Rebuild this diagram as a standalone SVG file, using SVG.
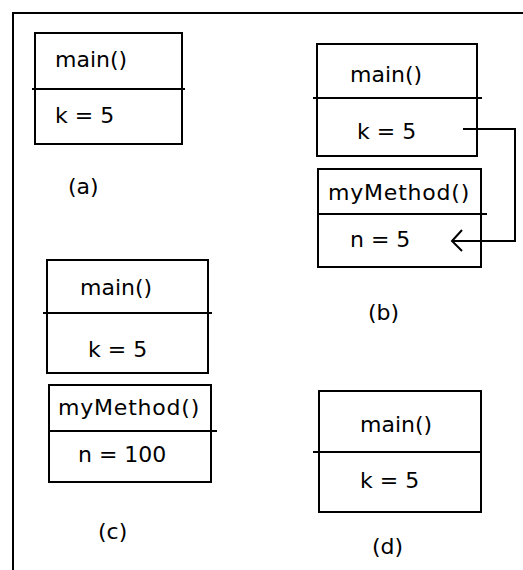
<svg xmlns="http://www.w3.org/2000/svg" width="523" height="570" viewBox="0 0 523 570">
<defs>
<style>
.box{fill:none;stroke:#000;stroke-width:2}
.div{stroke:#000;stroke-width:2}
.t{font-family:"DejaVu Sans",Verdana,sans-serif;font-size:22px;fill:#000}
.wide{letter-spacing:0.8px}
.conn{fill:none;stroke:#000;stroke-width:2}
</style>
<marker id="chev" markerUnits="userSpaceOnUse" viewBox="-12 -12 24 24" markerWidth="24" markerHeight="24" refX="0" refY="0" orient="auto" overflow="visible">
<path d="M-10,-10 L0,0 L-10,11" fill="none" stroke="#000" stroke-width="2"/>
</marker>
</defs>
<rect width="523" height="570" fill="#fff"/>
<path d="M13,570 V13 H523" fill="none" stroke="#000" stroke-width="2"/>

<g id="a-main">
<rect class="box" x="35" y="33" width="147" height="111"/>
<line class="div" x1="32" y1="89" x2="185" y2="89"/>
<text class="t" x="55" y="67">main()</text>
<text class="t" x="55" y="123">k = 5</text>
</g>
<g id="label-a"><text class="t" x="68" y="194">(a)</text></g>

<g id="b-main">
<rect class="box" x="317" y="44" width="160" height="112"/>
<line class="div" x1="313" y1="98" x2="482" y2="98"/>
<text class="t" x="350" y="82">main()</text>
<text class="t" x="357" y="139">k = 5</text>
</g>
<g id="b-mymethod">
<rect class="box" x="318" y="169" width="163" height="98"/>
<line class="div" x1="318" y1="214" x2="487" y2="214"/>
<text class="t wide" x="328" y="200">myMethod()</text>
<text class="t" x="350" y="247">n = 5</text>
</g>
<g id="label-b"><text class="t" x="368" y="320">(b)</text></g>

<g id="c-main">
<rect class="box" x="47" y="260" width="161" height="113"/>
<line class="div" x1="43" y1="313" x2="212" y2="313"/>
<text class="t" x="80" y="295">main()</text>
<text class="t" x="88" y="357">k = 5</text>
</g>
<g id="c-mymethod">
<rect class="box" x="49" y="385" width="162" height="97"/>
<line class="div" x1="49" y1="431" x2="217" y2="431"/>
<text class="t wide" x="58" y="415">myMethod()</text>
<text class="t" x="78" y="462">n = 100</text>
</g>
<g id="label-c"><text class="t" x="98" y="539">(c)</text></g>

<g id="d-main">
<rect class="box" x="319" y="391" width="162" height="121"/>
<line class="div" x1="313" y1="452" x2="481" y2="452"/>
<text class="t" x="360" y="432">main()</text>
<text class="t" x="360" y="488">k = 5</text>
</g>
<g id="label-d"><text class="t" x="372" y="554">(d)</text></g>

<g id="connectors">
<polyline class="conn" points="463,129 515,129 515,241 452,241" marker-end="url(#chev)"/>
</g>
</svg>
